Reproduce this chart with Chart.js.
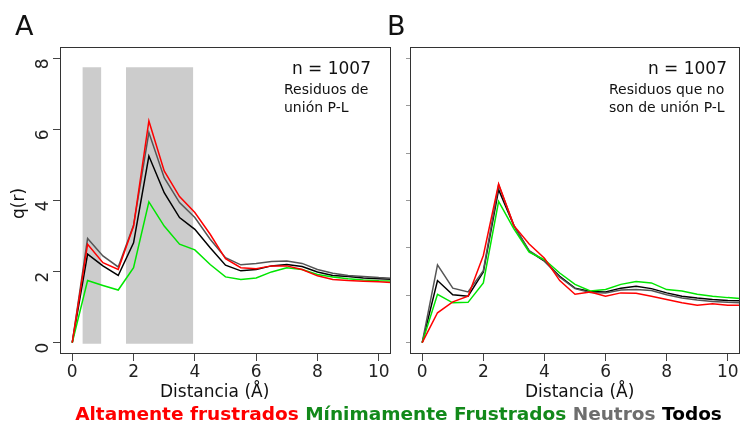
<!DOCTYPE html>
<html>
<head>
<meta charset="utf-8">
<script src="https://cdn.jsdelivr.net/npm/chart.js@4.4.1/dist/chart.umd.min.js"></script>
<style>
  body { margin: 0; background: #fff; font-family: "DejaVu Sans", sans-serif; }
  #wrap { position: relative; width: 741px; height: 427px; overflow: hidden; }
  .cv { position: absolute; top: 0; }
  .txt { position: absolute; color: #111; white-space: nowrap; line-height: 1; }
  .panel { font-size: 27px; }
  .nlab { font-size: 17px; text-align: right; }
  .sub { font-size: 14px; line-height: 18px; }
  .axt { font-size: 17px; }
  #legend { position: absolute; left: 28px; width: 741px; top: 403px; text-align: center;
            font-size: 18.5px; font-weight: bold; white-space: nowrap; }
</style>
</head>
<body>
<div id="wrap">
  <canvas id="chartA" class="cv" style="left:0"></canvas>
  <canvas id="chartB" class="cv" style="left:400px"></canvas>

  <div class="txt panel" style="left:15px; top:12px;">A</div>
  <div class="txt panel" style="left:387px; top:12px;">B</div>

  <div class="txt nlab" style="left:270px; width:101px; top:60px;">n = 1007</div>
  <div class="txt sub" style="left:284px; top:80px;">Residuos de<br>unión P-L</div>

  <div class="txt nlab" style="left:626px; width:101px; top:60px;">n = 1007</div>
  <div class="txt sub" style="left:609px; top:80px;">Residuos que no<br>son de unión P-L</div>

  <div class="txt axt" style="left:160px; top:383px;">Distancia (Å)</div>
  <div class="txt axt" style="left:525px; top:383px;">Distancia (Å)</div>
  <div class="txt axt" style="left:10px; top:219px; transform: rotate(-90deg); transform-origin: 0 0;">q(r)</div>

  <div id="legend">
    <span style="color:#ff0000">Altamente frustrados</span>
    <span style="color:#12891a">Mínimamente Frustrados</span>
    <span style="color:#6e6e6e">Neutros</span>
    <span style="color:#000000">Todos</span>
  </div>
</div>

<script>
// Distance values (Å)
const distance = [0, 0.5, 1, 1.5, 2, 2.5, 3, 3.5, 4, 4.5, 5, 5.5, 6, 6.5, 7, 7.5, 8, 8.5, 9, 9.5, 10, 10.5];

// Panel A: binding residues
const altaA   = [0, 2.77, 2.25, 2.06, 3.28, 6.24, 4.83, 4.11, 3.66, 3.05, 2.36, 2.11, 2.08, 2.16, 2.16, 2.06, 1.88, 1.78, 1.75, 1.73, 1.71, 1.69];
const minimaA = [0, 1.75, 1.61, 1.48, 2.11, 3.96, 3.28, 2.77, 2.61, 2.20, 1.85, 1.78, 1.82, 1.99, 2.11, 2.06, 1.92, 1.85, 1.80, 1.76, 1.74, 1.73];
const neutroA = [0, 2.93, 2.44, 2.13, 3.30, 5.91, 4.64, 3.94, 3.52, 2.91, 2.39, 2.19, 2.23, 2.28, 2.30, 2.23, 2.06, 1.95, 1.89, 1.86, 1.83, 1.81];
const todosA  = [0, 2.49, 2.16, 1.89, 2.81, 5.25, 4.22, 3.52, 3.19, 2.67, 2.18, 2.02, 2.06, 2.16, 2.20, 2.14, 1.99, 1.89, 1.86, 1.82, 1.80, 1.78];

// Panel B: non-binding residues
const altaB   = [0, 0.63, 0.86, 0.98, 1.84, 3.35, 2.47, 2.08, 1.78, 1.31, 1.02, 1.07, 0.98, 1.05, 1.04, 0.98, 0.91, 0.84, 0.79, 0.82, 0.79, 0.79];
const minimaB = [0, 1.02, 0.84, 0.85, 1.26, 2.98, 2.40, 1.91, 1.75, 1.47, 1.23, 1.09, 1.12, 1.23, 1.29, 1.26, 1.12, 1.09, 1.02, 0.98, 0.95, 0.93];
const neutroB = [0, 1.64, 1.15, 1.07, 1.52, 3.33, 2.47, 1.94, 1.73, 1.38, 1.14, 1.06, 1.05, 1.11, 1.12, 1.10, 1.01, 0.94, 0.90, 0.87, 0.85, 0.84];
const todosB  = [0, 1.31, 1.01, 0.98, 1.49, 3.23, 2.47, 1.93, 1.72, 1.40, 1.15, 1.08, 1.07, 1.15, 1.19, 1.14, 1.05, 0.98, 0.94, 0.91, 0.89, 0.88];

// Shaded distance windows in panel A
const shadeStart = [0.33, 1.75];
const shadeEnd = [0.95, 3.95];
const shadeTop = 7.75;
const shadeBottom = -0.03;

// Axis ticks
const xTicks = [0, 2, 4, 6, 8, 10];
const yTicksA = [0, 2, 4, 6, 8];
const yTicksB = [0, 1, 2, 3, 4, 5, 6];

const seriesColors = ['#ff0000', '#00e600', '#555555', '#000000'];

/**
 * Draws a full frame around the plotting area
 */
const boxPlugin = {
    id: 'box',
    afterDraw(chart) {
        const { ctx, chartArea } = chart;
        ctx.save();
        ctx.strokeStyle = '#333';
        ctx.lineWidth = 1;
        ctx.strokeRect(Math.round(chartArea.left) + 0.5, Math.round(chartArea.top) + 0.5,
            Math.round(chartArea.width) - 1, Math.round(chartArea.height) - 1);
        ctx.restore();
    }
};

function toPoints(values) {
    return values.map((v, i) => ({ x: distance[i], y: v }));
}

function lineDataset(values, color) {
    return {
        data: toPoints(values),
        borderColor: color,
        borderWidth: 1.5,
        pointRadius: 0,
        tension: 0,
        fill: false,
        clip: 0,
        order: 1,
    };
}

function makeChart(id, width, height, opts) {
    const canvas = document.getElementById(id);
    canvas.width = width;
    canvas.height = height;
    canvas.style.width = width + 'px';
    canvas.style.height = height + 'px';

    return new Chart(canvas, {
        type: 'line',
        data: { datasets: opts.datasets },
        options: {
            responsive: false,
            animation: false,
            events: [],
            layout: { padding: { top: 47, right: opts.padRight, left: 0, bottom: 0 } },
            plugins: { legend: { display: false }, tooltip: { enabled: false } },
            scales: {
                x: {
                    type: 'linear',
                    min: -0.4,
                    max: 10.4,
                    afterBuildTicks: scale => { scale.ticks = xTicks.map(v => ({ value: v })); },
                    afterFit: scale => { scale.height = height - 354; },
                    border: { display: false },
                    grid: { drawOnChartArea: false, drawTicks: true, tickLength: 7, color: '#444' },
                    ticks: { color: '#222', padding: 1, font: { family: 'DejaVu Sans', size: 17 }, maxRotation: 0 }
                },
                y: {
                    type: 'linear',
                    min: opts.yMin,
                    max: opts.yMax,
                    afterBuildTicks: scale => { scale.ticks = opts.yTicks.map(v => ({ value: v })); },
                    afterFit: scale => { scale.width = opts.yWidth; },
                    border: { display: false },
                    grid: { drawOnChartArea: false, drawTicks: true, tickLength: opts.yTickLen, color: opts.yTickColor },
                    ticks: {
                        display: opts.yLabels,
                        color: '#222',
                        padding: 9,
                        minRotation: 90,
                        maxRotation: 90,
                        font: { family: 'DejaVu Sans', size: 17 }
                    }
                }
            }
        },
        plugins: [boxPlugin]
    });
}

// Panel A datasets, shading drawn first
const shadeSets = shadeStart.map((s, i) => ({
    data: [{ x: s, y: shadeTop }, { x: shadeEnd[i], y: shadeTop }],
    borderWidth: 0,
    borderColor: 'rgba(0,0,0,0)',
    backgroundColor: '#cccccc',
    pointRadius: 0,
    fill: { value: shadeBottom },
    order: 10,
}));

makeChart('chartA', 400, 400, {
    padRight: 9,
    yMin: -0.32, yMax: 8.32, yTicks: yTicksA, yWidth: 60,
    yTickLen: 7, yTickColor: '#444', yLabels: true,
    datasets: [
        ...shadeSets,
        lineDataset(altaA, seriesColors[0]),
        lineDataset(minimaA, seriesColors[1]),
        lineDataset(neutroA, seriesColors[2]),
        lineDataset(todosA, seriesColors[3]),
    ]
});

makeChart('chartB', 341, 400, {
    padRight: 1,
    yMin: -0.24, yMax: 6.24, yTicks: yTicksB, yWidth: 10,
    yTickLen: 4, yTickColor: '#999', yLabels: false,
    datasets: [
        lineDataset(altaB, seriesColors[0]),
        lineDataset(minimaB, seriesColors[1]),
        lineDataset(neutroB, seriesColors[2]),
        lineDataset(todosB, seriesColors[3]),
    ]
});
</script>
</body>
</html>
